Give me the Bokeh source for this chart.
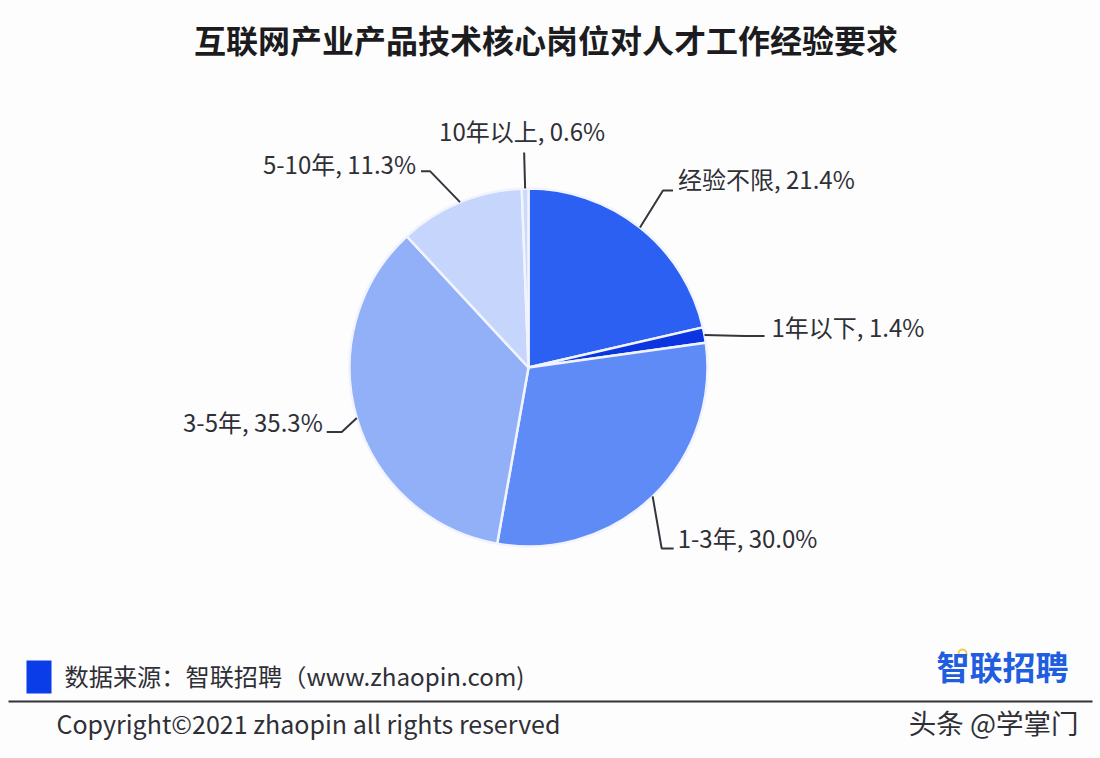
import math
from bokeh.plotting import figure
from bokeh.models import ColumnDataSource, Range1d, Label
from bokeh.embed import file_html
from bokeh.resources import INLINE

# Data
categories = ["经验不限", "1年以下", "1-3年", "3-5年", "5-10年", "10年以上"]
shares = [21.4, 1.4, 30.0, 35.3, 11.3, 0.6]
share_labels = ["21.4%", "1.4%", "30.0%", "35.3%", "11.3%", "0.6%"]
colors = ["#2b60f2", "#0a35e0", "#5f8bf6", "#92b0f8", "#c5d5fb", "#cbd9fb"]

title_text = "互联网产业产品技术核心岗位对人才工作经验要求"
source_text = "数据来源：智联招聘（www.zhaopin.com)"
copyright_text = "Copyright©2021 zhaopin all rights reserved"
brand_text = "智联招聘"
mark_text = "头条 @学掌门"

FONT = "Noto Sans CJK SC"
INK = "#2f2f36"
W, H = 1100, 758
CX, CY, R = 528, 367, 179

# Leader geometry per slice: elbow offset from the pie edge, horizontal run, label offset from run end
elbow_offsets = [(23, -37), (40, 1), (9, 52), (-15, 14), (-30, -31), (-1, -36)]
run_lengths = [10, 20, 12, -15, -9, 0]
label_offsets = [(5, -12), (7, -10), (4, -11), (-4, -10), (-5, -8), (-2, -22)]
label_aligns = ["left", "left", "left", "right", "right", "center"]

p = figure(width=W, height=H, output_backend="svg", toolbar_location=None,
           x_range=Range1d(0, W), y_range=Range1d(H, 0),
           min_border=0, outline_line_color=None, background_fill_color="#fdfdfe",
           border_fill_color="#fdfdfe")
p.axis.visible = False
p.grid.visible = False

total = sum(shares)
starts, ends, mids = [], [], []
acc = 0.0
for s in shares:
    a0 = acc / total * 2 * math.pi
    acc += s
    a1 = acc / total * 2 * math.pi
    starts.append(a0)
    ends.append(a1)
    mids.append((a0 + a1) / 2)

# Wedge angles are measured on screen: 12 o'clock is pi/2, going clockwise
src = ColumnDataSource(dict(
    x=[CX] * len(shares), y=[CY] * len(shares),
    start=[math.pi / 2 - a for a in starts],
    end=[math.pi / 2 - a for a in ends],
    color=colors))
p.wedge(x="x", y="y", radius=R, start_angle="start", end_angle="end",
        direction="clock", source=src, fill_color="color",
        line_color="#f1f4fe", line_width=2.5)

for i, cat in enumerate(categories):
    ex = CX + R * math.sin(mids[i])
    ey = CY - R * math.cos(mids[i])
    dx, dy = elbow_offsets[i]
    bx, by = ex + dx, ey + dy
    tx, ty = bx + run_lengths[i], by
    p.line([ex, bx, tx], [ey, by, ty], line_color="#33363c", line_width=2)
    lx, ly = label_offsets[i]
    p.add_layout(Label(x=tx + lx, y=ty + ly, text=f"{cat}, {share_labels[i]}",
                       text_font=FONT, text_font_size="24px", text_color=INK,
                       text_align=label_aligns[i], text_baseline="middle"))

def put(x, y, text, size, color=INK, style="normal", align="left"):
    p.add_layout(Label(x=x, y=y, text=text, text_font=FONT, text_font_size=size,
                       text_color=color, text_font_style=style, text_align=align,
                       text_baseline="middle"))

put(545.5, 38, title_text, "32px", "#1c1c20", "bold", "center")
p.quad(left=[26], right=[51], top=[660], bottom=[693], fill_color="#0a3de8", line_color=None)
put(64, 675, source_text, "24.2px")
put(1068, 665, brand_text, "33px", "#1f5ee0", "bold", "right")
p.scatter([962], [653], size=8, marker="circle", fill_color=None,
          line_color="#f2c94c", line_width=2)
p.line([8, 1092], [701, 701], line_color="#333338", line_width=2)
put(56, 722, copyright_text, "25px")
put(1078, 721, mark_text, "27.5px", INK, "normal", "right")

open("out.html", "w").write(file_html(p, INLINE))
